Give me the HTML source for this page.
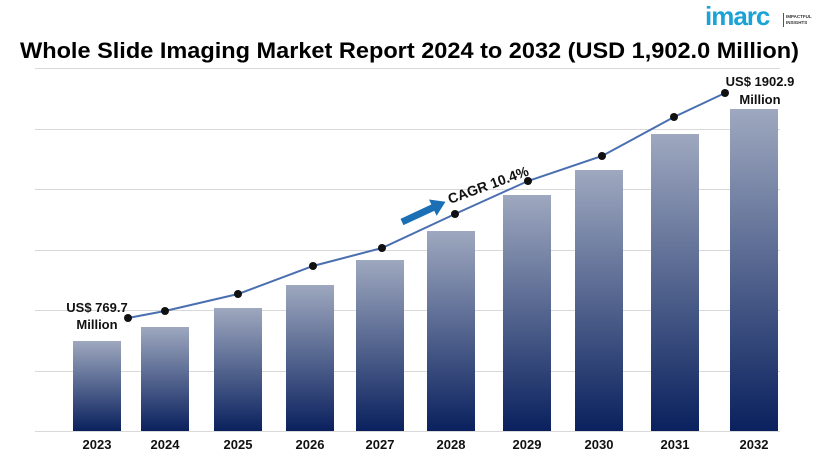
<!DOCTYPE html>
<html><head><meta charset="utf-8"><style>
body{margin:0;background:#fff;}
svg{display:block;font-family:"Liberation Sans",sans-serif;}
</style></head><body>
<svg width="822" height="461" viewBox="0 0 822 461">
<defs>
<linearGradient id="g" x1="0" y1="0" x2="0" y2="1">
<stop offset="0" stop-color="#9ea8bf"/><stop offset="1" stop-color="#0a215e"/>
</linearGradient>
</defs>
<rect width="822" height="461" fill="#fff"/>
<text x="20" y="58" font-size="22" font-weight="bold" fill="#000" textLength="779" lengthAdjust="spacingAndGlyphs">Whole Slide Imaging Market Report 2024 to 2032 (USD 1,902.0 Million)</text>
<g>
<text x="705" y="25" font-size="26" font-weight="bold" fill="#1ba3d6" letter-spacing="-1">imarc</text>
<rect x="783" y="13" width="1" height="14" fill="#555"/>
<text x="786" y="18" font-size="4.5" font-weight="bold" fill="#333">IMPACTFUL</text>
<text x="786" y="24" font-size="4.5" font-weight="bold" fill="#333">INSIGHTS</text>
</g>
<g stroke="#d9d9d9" stroke-width="1">
<line x1="35" y1="68.5" x2="780" y2="68.5"/>
<line x1="35" y1="129.5" x2="780" y2="129.5"/>
<line x1="35" y1="189.5" x2="780" y2="189.5"/>
<line x1="35" y1="250.5" x2="780" y2="250.5"/>
<line x1="35" y1="310.5" x2="780" y2="310.5"/>
<line x1="35" y1="371.5" x2="780" y2="371.5"/>
<line x1="35" y1="431.5" x2="780" y2="431.5"/>
</g>
<g fill="url(#g)">
<rect x="73" y="341" width="48" height="90"/>
<rect x="141" y="327" width="48" height="104"/>
<rect x="214" y="308" width="48" height="123"/>
<rect x="286" y="285" width="48" height="146"/>
<rect x="356" y="260" width="48" height="171"/>
<rect x="427" y="231" width="48" height="200"/>
<rect x="503" y="195" width="48" height="236"/>
<rect x="575" y="170" width="48" height="261"/>
<rect x="651" y="134" width="48" height="297"/>
<rect x="730" y="109" width="48" height="322"/>
</g>
<polyline fill="none" stroke="#4a6fb0" stroke-width="2" points="128,318 165,311 238,294 313,266 382,248 455,214 528,181 602,156 674,117 725,93"/>
<g fill="#111">
<circle cx="128" cy="318" r="4"/><circle cx="165" cy="311" r="4"/><circle cx="238" cy="294" r="4"/><circle cx="313" cy="266" r="4"/><circle cx="382" cy="248" r="4"/><circle cx="455" cy="214" r="4"/><circle cx="528" cy="181" r="4"/><circle cx="602" cy="156" r="4"/><circle cx="674" cy="117" r="4"/><circle cx="725" cy="93" r="4"/>
</g>
<g font-size="13" font-weight="bold" fill="#111" text-anchor="middle">
<text x="97" y="449">2023</text><text x="165" y="449">2024</text><text x="238" y="449">2025</text><text x="310" y="449">2026</text><text x="380" y="449">2027</text><text x="451" y="449">2028</text><text x="527" y="449">2029</text><text x="599" y="449">2030</text><text x="675" y="449">2031</text><text x="754" y="449">2032</text>
<text x="97" y="312">US$ 769.7</text><text x="97" y="329">Million</text>
<text x="760" y="86">US$ 1902.9</text><text x="760" y="104">Million</text>
</g>
<g transform="translate(402,222) rotate(-25)">
<rect x="0" y="-3.5" width="36" height="7" fill="#1a6fb5"/>
<polygon points="34,-9 48,0 34,9" fill="#1a6fb5"/>
</g>
<text x="0" y="0" font-size="14" font-weight="bold" fill="#111" transform="translate(450,204) rotate(-20)">CAGR 10.4%</text>
</svg>
</body></html>
